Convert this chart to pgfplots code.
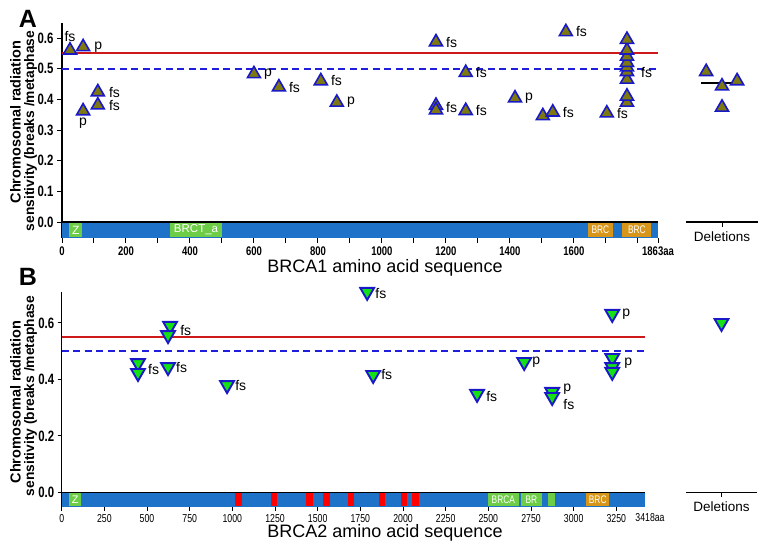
\documentclass[border=0pt]{standalone}
\usepackage{pgfplots}
\pgfplotsset{compat=1.18}
\usepackage{fontspec}
\setmainfont{Liberation Sans}
\newfontfamily\condensed[FakeStretch=0.76]{Liberation Sans}

\definecolor{seqblue}{RGB}{30,115,200}
\definecolor{domgreen}{RGB}{110,205,70}
\definecolor{domorange}{RGB}{215,150,25}
\definecolor{olivefill}{RGB}{125,120,15}
\definecolor{edgeblue}{RGB}{25,25,200}
\definecolor{brightgreen}{RGB}{20,225,20}
\definecolor{refred}{RGB}{205,25,25}
\definecolor{dashblue}{RGB}{30,30,220}

\newcommand{\fsz}[1]{\fontsize{#1}{#1}\selectfont}

\tikzset{lab/.style={anchor=west, inner sep=0pt, font=\fsz{14}}}

\pgfplotsset{
  panel/.style={
    scale only axis, clip=false,
    axis y line=left, axis x line=bottom,
    axis line style={-}, x axis line style={draw=none},
    y axis line style={line width=1.5pt},
    tick align=outside, major tick length=5pt, minor tick length=5pt,
    tick style={black, line width=1pt},
    /pgf/number format/assume math mode=true,
    /pgf/number format/1000 sep={},
    yticklabel style={font={\condensed\bfseries\fsz{15}},
      /pgf/number format/fixed, /pgf/number format/fixed zerofill,
      /pgf/number format/precision=1},
  },
  delpanel/.style={scale only axis, clip=false, hide axis, xmin=-1, xmax=1},
  upmark/.style={only marks, mark=triangle*, mark size=7.5pt,
    mark options={fill=olivefill, draw=edgeblue, line width=1.6pt}},
  downmark/.style={only marks, mark=triangle*, mark size=8pt,
    mark options={rotate=180, fill=brightgreen, draw=edgeblue, line width=1.9pt}},
  dom/.style={draw=none},
  refline/.style={draw=refred, color=refred, solid, line width=2pt},
  dashline/.style={dashblue, line width=2pt, dash pattern=on 7pt off 4.5pt},
}

\begin{document}
\begin{tikzpicture}
\useasboundingbox (0,0) rectangle (772pt,-548pt);

% ---------------- Panel A ----------------
\begin{axis}[panel, at={(62pt,-238pt)}, anchor=south west,
  width=596pt, height=215pt,
  xmin=0, xmax=1863, ymin=-0.052, ymax=0.649,
  ytick={0,0.1,0.2,0.3,0.4,0.5,0.6},
  xtick={0,200,400,600,800,1000,1200,1400,1600,1863},
  xticklabels={0,200,400,600,800,1000,1200,1400,1600,1863aa},
  minor xtick={100,300,500,700,900,1100,1300,1500,1700,1800},
  xticklabel style={font={\condensed\bfseries\fsz{12.5}}},
]
% sequence bar and domains
\addplot[fill=seqblue, dom] coordinates {(0,-0.052) (1863,-0.052) (1863,0) (0,0)} -- cycle;
\addplot[fill=domgreen, dom] coordinates {(22,-0.050) (64,-0.050) (64,-0.002) (22,-0.002)} -- cycle;
\addplot[fill=domgreen, dom] coordinates {(339,-0.050) (499,-0.050) (499,-0.002) (339,-0.002)} -- cycle;
\addplot[fill=domorange, dom] coordinates {(1645,-0.050) (1721,-0.050) (1721,-0.002) (1645,-0.002)} -- cycle;
\addplot[fill=domorange, dom] coordinates {(1752,-0.050) (1842,-0.050) (1842,-0.002) (1752,-0.002)} -- cycle;
\addplot[black, line width=1.5pt] coordinates {(0,0) (1863,0)};
\node[white, font=\fsz{12}] at (axis cs:43,-0.026) {Z};
\node[white, font=\fsz{11.5}] at (axis cs:419,-0.026) {BRCT\_a};
\node[white, font={\condensed\fsz{11}}] at (axis cs:1683,-0.026) {BRC};
\node[white, font={\condensed\fsz{11}}] at (axis cs:1797,-0.026) {BRC};
% reference lines
\addplot[dashline] coordinates {(0,0.5) (1863,0.5)};
\addplot[refline] coordinates {(0,0.551) (1863,0.551)};
% mutations
\addplot[upmark] coordinates {
(25,0.560) (66,0.571) (112,0.424) (112,0.381) (66,0.362)
(600,0.483) (678,0.440) (809,0.460) (859,0.390)
(1169,0.587) (1169,0.380) (1169,0.365)
(1262,0.487) (1262,0.363)
(1416,0.404) (1503,0.346) (1534,0.358) (1575,0.620) (1703,0.355)
(1766,0.390) (1766,0.410) (1766,0.465) (1766,0.490) (1766,0.505)
(1766,0.520) (1766,0.540) (1766,0.560) (1766,0.595)
};
\node[anchor=south, inner sep=0pt, font=\fsz{14}] at (axis cs:25,0.560) [yshift=8pt] {fs};
\node[lab] at (axis cs:66,0.571) [xshift=11pt] {p};
\node[lab] at (axis cs:112,0.424) [xshift=11pt] {fs};
\node[lab] at (axis cs:112,0.381) [xshift=11pt] {fs};
\node[anchor=north, inner sep=0pt, font=\fsz{14}] at (axis cs:66,0.362) [yshift=-7pt] {p};
\node[lab] at (axis cs:600,0.483) [xshift=10pt] {p};
\node[lab] at (axis cs:678,0.440) [xshift=10pt] {fs};
\node[lab] at (axis cs:809,0.460) [xshift=10pt] {fs};
\node[lab] at (axis cs:859,0.390) [xshift=10pt] {p};
\node[lab] at (axis cs:1169,0.587) [xshift=10pt] {fs};
\node[lab] at (axis cs:1169,0.375) [xshift=10pt] {fs};
\node[lab] at (axis cs:1262,0.487) [xshift=10pt] {fs};
\node[lab] at (axis cs:1262,0.363) [xshift=10pt] {fs};
\node[lab] at (axis cs:1416,0.404) [xshift=10pt] {p};
\node[lab] at (axis cs:1534,0.358) [xshift=10pt] {fs};
\node[lab] at (axis cs:1575,0.620) [xshift=10pt] {fs};
\node[lab] at (axis cs:1703,0.355) [xshift=10pt] {fs};
\node[lab] at (axis cs:1766,0.489) [xshift=14pt] {fs};
\end{axis}

\begin{axis}[delpanel, at={(686pt,-238pt)}, anchor=south west,
  width=72pt, height=215pt, ymin=-0.052, ymax=0.649]
\addplot[black, line width=1.2pt] coordinates {(-1,0) (1,0)};
\draw[black, line width=1pt] (axis cs:0,0) -- ([yshift=-5pt]axis cs:0,0);
\node[anchor=north, inner sep=0pt, font=\fsz{13.5}] at (axis cs:0,0) [yshift=-9pt] {Deletions};
\addplot[black, line width=2pt] coordinates {(-0.58,0.452) (0.53,0.452)};
\addplot[upmark] coordinates {(-0.44,0.490) (0,0.443) (0.42,0.460) (0,0.374)};
\end{axis}

% ---------------- Panel B ----------------
\begin{axis}[panel, at={(61.7pt,-506.6pt)}, anchor=south west,
  width=583.3pt, height=214.7pt,
  xmin=0, xmax=3418, ymin=-0.05, ymax=0.71,
  ytick={0,0.2,0.4,0.6},
  xtick={0,250,...,3250},
  major tick length=4pt,
  xticklabel style={font={\condensed\fsz{11.5}}},
]
\addplot[fill=seqblue, dom] coordinates {(0,-0.05) (3418,-0.05) (3418,0) (0,0)} -- cycle;
\addplot[fill=domgreen, dom] coordinates {(45,-0.048) (114,-0.048) (114,-0.002) (45,-0.002)} -- cycle;
\addplot[fill=red, dom] coordinates {(1015,-0.048) (1055,-0.048) (1055,-0.002) (1015,-0.002)} -- cycle;
\addplot[fill=red, dom] coordinates {(1225,-0.048) (1261,-0.048) (1261,-0.002) (1225,-0.002)} -- cycle;
\addplot[fill=red, dom] coordinates {(1433,-0.048) (1472,-0.048) (1472,-0.002) (1433,-0.002)} -- cycle;
\addplot[fill=red, dom] coordinates {(1531,-0.048) (1571,-0.048) (1571,-0.002) (1531,-0.002)} -- cycle;
\addplot[fill=red, dom] coordinates {(1680,-0.048) (1715,-0.048) (1715,-0.002) (1680,-0.002)} -- cycle;
\addplot[fill=red, dom] coordinates {(1857,-0.048) (1892,-0.048) (1892,-0.002) (1857,-0.002)} -- cycle;
\addplot[fill=red, dom] coordinates {(1990,-0.048) (2025,-0.048) (2025,-0.002) (1990,-0.002)} -- cycle;
\addplot[fill=red, dom] coordinates {(2055,-0.048) (2092,-0.048) (2092,-0.002) (2055,-0.002)} -- cycle;
\addplot[fill=domgreen, dom] coordinates {(2496,-0.048) (2680,-0.048) (2680,-0.002) (2496,-0.002)} -- cycle;
\addplot[fill=domgreen, dom] coordinates {(2690,-0.048) (2814,-0.048) (2814,-0.002) (2690,-0.002)} -- cycle;
\addplot[fill=domgreen, dom] coordinates {(2847,-0.048) (2892,-0.048) (2892,-0.002) (2847,-0.002)} -- cycle;
\addplot[fill=domorange, dom] coordinates {(3074,-0.048) (3209,-0.048) (3209,-0.002) (3074,-0.002)} -- cycle;
\addplot[black, line width=1.5pt] coordinates {(0,0) (3418,0)};
\node[white, font=\fsz{11}] at (axis cs:80,-0.025) {Z};
\node[white, font={\condensed\fsz{11}}] at (axis cs:2588,-0.025) {BRCA};
\node[white, font={\condensed\fsz{11}}] at (axis cs:2752,-0.025) {BR};
\node[white, font={\condensed\fsz{11}}] at (axis cs:3141,-0.025) {BRC};
\node[anchor=north, inner sep=0pt, font={\condensed\fsz{11.5}}] at (axis cs:3418,-0.05) [xshift=5pt, yshift=-7pt] {3418aa};
\addplot[dashline] coordinates {(0,0.5) (3418,0.5)};
\addplot[refline] coordinates {(0,0.55) (3418,0.55)};
\addplot[downmark] coordinates {
(635,0.590) (623,0.557) (447,0.458) (447,0.423) (623,0.444) (969,0.380)
(1790,0.710) (1825,0.416) (2434,0.349) (3226,0.632) (2710,0.462)
(3226,0.476) (3226,0.444) (3226,0.427) (2874,0.356) (2874,0.338)
};
\node[lab] at (axis cs:635,0.575) [xshift=10pt] {fs};
\node[lab] at (axis cs:447,0.437) [xshift=10pt] {fs};
\node[lab] at (axis cs:623,0.444) [xshift=8pt] {fs};
\node[lab] at (axis cs:969,0.380) [xshift=8pt] {fs};
\node[lab] at (axis cs:1790,0.706) [xshift=8pt] {fs};
\node[lab] at (axis cs:1825,0.416) [xshift=8pt] {fs};
\node[lab] at (axis cs:2434,0.338) [xshift=9pt] {fs};
\node[lab] at (axis cs:3226,0.632) [xshift=10pt] {p};
\node[lab] at (axis cs:2710,0.462) [xshift=8pt] {p};
\node[lab] at (axis cs:3226,0.459) [xshift=12pt] {p};
\node[lab] at (axis cs:2874,0.366) [xshift=11pt] {p};
\node[lab] at (axis cs:2874,0.313) [xshift=11pt] {fs};
\end{axis}

\begin{axis}[delpanel, at={(686pt,-506.6pt)}, anchor=south west,
  width=71pt, height=214.7pt, ymin=-0.05, ymax=0.71]
\addplot[black, line width=1.2pt] coordinates {(-1,0) (1,0)};
\draw[black, line width=1pt] (axis cs:0,0) -- ([yshift=-5pt]axis cs:0,0);
\node[anchor=north, inner sep=0pt, font=\fsz{13.5}] at (axis cs:0,0) [yshift=-9pt] {Deletions};
\addplot[downmark] coordinates {(0,0.600)};
\end{axis}

% ---------------- titles and labels ----------------
\node[font={\bfseries\fsz{25}}, inner sep=0pt] at (28pt,-19pt) {A};
\node[font={\bfseries\fsz{25}}, inner sep=0pt] at (28pt,-277pt) {B};
\node[font=\fsz{18}, inner sep=0pt] at (385pt,-268pt) {BRCA1 amino acid sequence};
\node[font=\fsz{18}, inner sep=0pt] at (385pt,-533pt) {BRCA2 amino acid sequence};
\node[rotate=90, font={\bfseries\fsz{14.5}}, inner sep=0pt] at (15.5pt,-122pt) {Chromosomal radiation};
\node[rotate=90, font={\bfseries\fsz{13.8}}, inner sep=0pt] at (30.5pt,-131pt) {sensitivity (breaks /metaphase};
\node[rotate=90, font={\bfseries\fsz{14.5}}, inner sep=0pt] at (15.5pt,-402pt) {Chromosomal radiation};
\node[rotate=90, font={\bfseries\fsz{13.8}}, inner sep=0pt] at (30.5pt,-396pt) {sensitivity (breaks /metaphase};
\end{tikzpicture}
\end{document}
